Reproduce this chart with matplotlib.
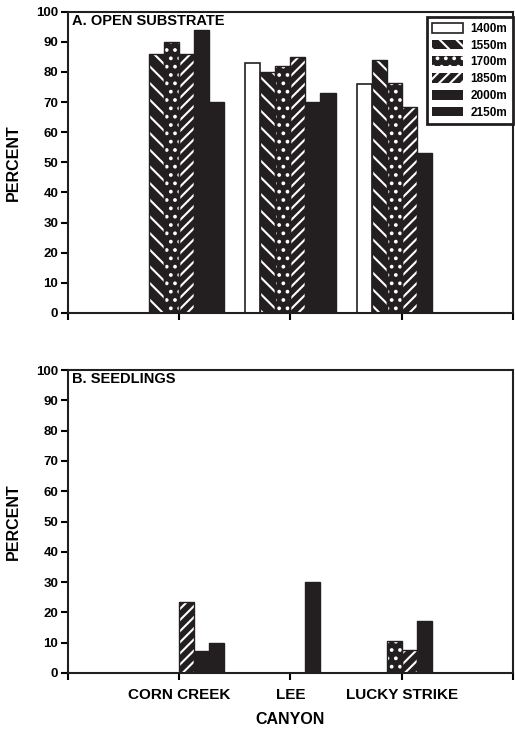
# доля открытого субстрата и сеянцев по каньонам
import matplotlib
matplotlib.use("Agg")
import matplotlib.pyplot as plt
import numpy as np

plt.rcParams['font.family'] = ['Liberation Sans', 'DejaVu Sans']
plt.rcParams['font.weight'] = 'bold'
plt.rcParams['hatch.color'] = 'white'
plt.rcParams['hatch.linewidth'] = 1.5

BLACK = '#231f20'

canyons = ['CORN CREEK', 'LEE', 'LUCKY STRIKE']
series = ['1400m', '1550m', '1700m', '1850m', '2000m', '2150m']

# A. open substrate, percent (one list per series, canyons in order)
open_1 = [0, 83, 76]
open_2 = [86, 80, 84]
open_3 = [90, 82, 76.5]
open_4 = [86, 85, 68.5]
open_5 = [94, 70, 53]
open_6 = [70, 73, 0]

# B. seedlings, percent
seed_1 = [0, 0, 0]
seed_2 = [0, 0, 0]
seed_3 = [0, 0, 10.5]
seed_4 = [23.5, 0, 7.5]
seed_5 = [7.3, 30, 17]
seed_6 = [10, 0, 0]

open_data = [open_1, open_2, open_3, open_4, open_5, open_6]
seed_data = [seed_1, seed_2, seed_3, seed_4, seed_5, seed_6]

faces = ['white', BLACK, BLACK, BLACK, BLACK, BLACK]
hatches = [None, '\\\\', '..', '///', None, None]


def draw_panel(ax, data, title, show_labels):
    x = np.arange(1, len(canyons) + 1)
    w = 0.135
    handles = []
    for i, vals in enumerate(data):
        pos = x + (i - 2.5) * w
        if faces[i] == 'white':
            b = ax.bar(pos, vals, w, color='white', edgecolor=BLACK,
                       linewidth=1.2, label=series[i], zorder=2)
        else:
            b = ax.bar(pos, vals, w, color=faces[i], hatch=hatches[i],
                       label=series[i], zorder=2)
            ax.bar(pos, vals, w, fill=False, edgecolor=BLACK,
                   linewidth=1.0, zorder=3)
        handles.append(b)

    ax.set_xlim(0, 4)
    ax.set_ylim(0, 100)
    ax.set_yticks(range(0, 101, 10))
    ax.set_xticks([0, 1, 2, 3, 4])
    if show_labels:
        ax.set_xticklabels([''] + canyons + [''], fontsize=11,
                           fontweight='bold')
        ax.set_xlabel('CANYON', fontsize=11.5, fontweight='bold', labelpad=7)
    else:
        ax.set_xticklabels([])
    ax.tick_params(axis='y', labelsize=9.5, length=5, width=1.5, direction='out', pad=2)
    ax.tick_params(axis='x', length=5, width=1.5, direction='out', pad=6)
    for s in ax.spines.values():
        s.set_linewidth(1.5)
        s.set_color(BLACK)
    ax.set_ylabel('PERCENT', fontsize=11.5, fontweight='bold')
    ax.text(0.01, 0.993, title, transform=ax.transAxes, fontsize=10.5,
            fontweight='bold', va='top', ha='left', zorder=5)
    return handles


fig = plt.figure(figsize=(5.15, 7.33), dpi=100)
ax1 = fig.add_axes([0.132, 0.573, 0.864, 0.411])
ax2 = fig.add_axes([0.132, 0.082, 0.864, 0.413])

handles = draw_panel(ax1, open_data, 'A. OPEN SUBSTRATE', False)
draw_panel(ax2, seed_data, 'B. SEEDLINGS', True)

ax1.yaxis.set_label_coords(-0.105, 0.5)
ax2.yaxis.set_label_coords(-0.105, 0.5)

leg = ax1.legend(handles=handles, loc='upper right',
                 bbox_to_anchor=(513 / 515, 1 - 17 / 733),
                 bbox_transform=fig.transFigure, borderaxespad=0,
                 fontsize=8.5, handlelength=2.6, handleheight=0.9,
                 handletextpad=0.6, labelspacing=0.4, borderpad=0.5,
                 fancybox=False, framealpha=1)
leg.get_frame().set_edgecolor(BLACK)
leg.get_frame().set_linewidth(2)
leg.set_zorder(6)

fig.savefig('out.png', dpi=100)
